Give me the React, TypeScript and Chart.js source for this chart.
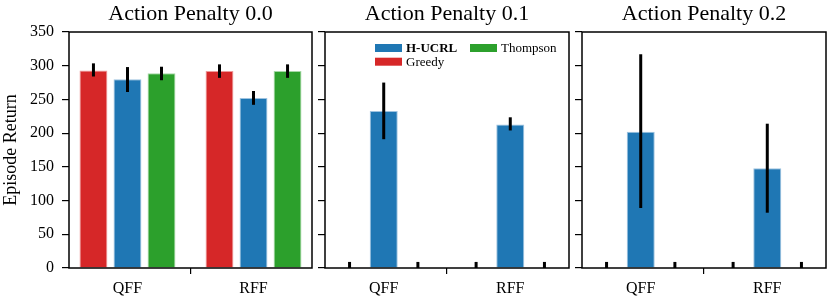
import React, { useEffect, useRef } from "react";
import { Chart, registerables } from "chart.js";

Chart.register(...registerables);

// ---------- data ----------
const categories = ["QFF", "RFF"];
const seriesNames = ["Greedy", "H-UCRL", "Thompson"];
const seriesColors = ["#d62728", "#1f77b4", "#2ca02c"];
const seriesEdges = ["#ee9a9a", "#9ec3e0", "#a6d8a6"];
const panelTitles = ["Action Penalty 0.0", "Action Penalty 0.1", "Action Penalty 0.2"];
const yAxisTitle = "Episode Return";
const yMin = 0;
const yMax = 350;
const yStep = 50;
const xMin = -0.464;
const xMax = 1.464;

// Action Penalty 0.0
const greedyP0 = [293, 292];
const greedyP0Lo = [284, 282];
const greedyP0Hi = [303.5, 302];
const hucrlP0 = [280, 252];
const hucrlP0Lo = [261, 242];
const hucrlP0Hi = [298, 262.5];
const thompsonP0 = [289, 292];
const thompsonP0Lo = [278.5, 282];
const thompsonP0Hi = [298.5, 302];

// Action Penalty 0.1
const greedyP1 = [0, 0];
const greedyP1Lo = [-9, -9];
const greedyP1Hi = [9, 9];
const hucrlP1 = [233, 213];
const hucrlP1Lo = [191, 204];
const hucrlP1Hi = [275, 223.5];
const thompsonP1 = [0, 0];
const thompsonP1Lo = [-9, -9];
const thompsonP1Hi = [9, 9];

// Action Penalty 0.2
const greedyP2 = [0, 0];
const greedyP2Lo = [-9, -9];
const greedyP2Hi = [9, 9];
const hucrlP2 = [202, 148];
const hucrlP2Lo = [89, 82];
const hucrlP2Hi = [317, 214];
const thompsonP2 = [0, 0];
const thompsonP2Lo = [-9, -9];
const thompsonP2Hi = [9, 9];

const panelData = [
  { values: [greedyP0, hucrlP0, thompsonP0], lo: [greedyP0Lo, hucrlP0Lo, thompsonP0Lo], hi: [greedyP0Hi, hucrlP0Hi, thompsonP0Hi] },
  { values: [greedyP1, hucrlP1, thompsonP1], lo: [greedyP1Lo, hucrlP1Lo, thompsonP1Lo], hi: [greedyP1Hi, hucrlP1Hi, thompsonP1Hi] },
  { values: [greedyP2, hucrlP2, thompsonP2], lo: [greedyP2Lo, hucrlP2Lo, thompsonP2Lo], hi: [greedyP2Hi, hucrlP2Hi, thompsonP2Hi] },
];

const FONT = '"Liberation Serif", "Times New Roman", serif';

// ---------- layout (pixels) ----------
const panelLayout = [
  { left: 0, width: 318, axisW: 69, padR: 6, labels: true, legend: false },
  { left: 315, width: 260, axisW: 10, padR: 6, labels: false, legend: true },
  { left: 575, width: 255, axisW: 7, padR: 4, labels: false, legend: false },
];

function Panel({ idx }: { idx: number }) {
  const ref = useRef<HTMLCanvasElement | null>(null);
  useEffect(() => {
    const lay = panelLayout[idx];
    const pd = panelData[idx];
    const title = panelTitles[idx];

    const errorBars = {
      id: "errorBars",
      afterDatasetsDraw(chart: any) {
        const ctx = chart.ctx;
        const ys = chart.scales.y;
        const ca = chart.chartArea;
        ctx.save();
        ctx.beginPath();
        ctx.rect(ca.left, ca.top, ca.right - ca.left, ca.bottom - ca.top);
        ctx.clip();
        ctx.strokeStyle = "#000";
        ctx.lineWidth = 3;
        chart.data.datasets.forEach((ds: any, i: number) => {
          const meta = chart.getDatasetMeta(i);
          meta.data.forEach((bar: any, j: number) => {
            const y1 = ys.getPixelForValue(ds.errLo[j]);
            const y2 = ys.getPixelForValue(ds.errHi[j]);
            ctx.beginPath();
            ctx.moveTo(bar.x, y1);
            ctx.lineTo(bar.x, y2);
            ctx.stroke();
          });
        });
        ctx.restore();
      },
    };

    const frame = {
      id: "frame",
      afterDraw(chart: any) {
        const ctx = chart.ctx;
        const ca = chart.chartArea;
        ctx.save();
        ctx.strokeStyle = "#000";
        ctx.lineWidth = 1.5;
        ctx.strokeRect(ca.left, ca.top, ca.right - ca.left, ca.bottom - ca.top);
        ctx.fillStyle = "#000";
        ctx.font = `22px ${FONT}`;
        ctx.textAlign = "center";
        ctx.textBaseline = "alphabetic";
        ctx.fillText(title, (ca.left + ca.right) / 2, 20);
        if (lay.legend) {
          const ds = chart.data.datasets;
          const items = [
            { d: ds[1], col: 0, row: 0, bold: true },
            { d: ds[2], col: 1, row: 0, bold: false },
            { d: ds[0], col: 0, row: 1, bold: false },
          ];
          items.forEach((it) => {
            const x0 = ca.left + 50 + it.col * 95;
            const y0 = ca.top + 12 + it.row * 13.7;
            ctx.fillStyle = it.d.backgroundColor;
            ctx.fillRect(x0, y0, 27, 8);
            ctx.fillStyle = "#000";
            ctx.font = `${it.bold ? "bold " : ""}13px ${FONT}`;
            ctx.textAlign = "left";
            ctx.textBaseline = "middle";
            ctx.fillText(it.d.label, x0 + 31, y0 + 4.5);
          });
        }
        ctx.restore();
      },
    };

    const chart = new Chart(ref.current as HTMLCanvasElement, {
      type: "bar",
      data: {
        datasets: seriesNames.map((name, i) => ({
          label: name,
          data: pd.values[i].map((v, j) => ({ x: j, y: v })),
          errLo: pd.lo[i],
          errHi: pd.hi[i],
          backgroundColor: seriesColors[i],
          borderColor: seriesEdges[i],
          borderWidth: 1,
          barPercentage: 0.82,
          categoryPercentage: 0.81,
        })) as any,
      },
      options: {
        responsive: false,
        maintainAspectRatio: false,
        animation: false,
        layout: { padding: { left: 0, right: lay.padR, top: 32, bottom: 0 } },
        plugins: {
          legend: { display: false },
          tooltip: { enabled: false },
          title: { display: false },
        },
        scales: {
          x: {
            type: "linear",
            min: xMin,
            max: xMax,
            offset: false,
            afterBuildTicks: (s: any) => {
              s.ticks = categories.map((_, j) => ({ value: j }));
            },
            grid: {
              display: true,
              drawOnChartArea: false,
              drawTicks: true,
              tickLength: 6,
              color: "#000",
              lineWidth: 1.2,
            },
            border: { display: false },
            ticks: {
              color: "#000",
              font: { family: FONT, size: 16 },
              padding: 5,
              maxRotation: 0,
              autoSkip: false,
              callback: (v: any) => categories[Math.round(Number(v))] ?? "",
            },
            afterFit: (s: any) => {
              s.height = 34;
            },
          },
          y: {
            min: yMin,
            max: yMax,
            grid: {
              display: true,
              drawOnChartArea: false,
              drawTicks: true,
              tickLength: 7,
              color: "#000",
              lineWidth: 1.2,
            },
            border: { display: false },
            ticks: {
              stepSize: yStep,
              display: lay.labels,
              color: "#000",
              font: { family: FONT, size: 16 },
              padding: 8,
            },
            title: {
              display: lay.labels,
              text: yAxisTitle,
              color: "#000",
              font: { family: FONT, size: 18 },
              padding: { top: 0, bottom: 0 },
            },
            afterFit: (s: any) => {
              s.width = lay.axisW;
            },
          },
        },
      } as any,
      plugins: [errorBars, frame],
    });
    return () => chart.destroy();
  }, [idx]);

  const lay = panelLayout[idx];
  return (
    <canvas
      ref={ref}
      width={lay.width}
      height={302}
      style={{ position: "absolute", left: lay.left, top: 0, width: lay.width, height: 302 }}
    />
  );
}

export default function App() {
  return (
    <div style={{ position: "absolute", left: 0, top: 0, width: 830, height: 302, background: "#fff" }}>
      <Panel idx={0} />
      <Panel idx={1} />
      <Panel idx={2} />
    </div>
  );
}
